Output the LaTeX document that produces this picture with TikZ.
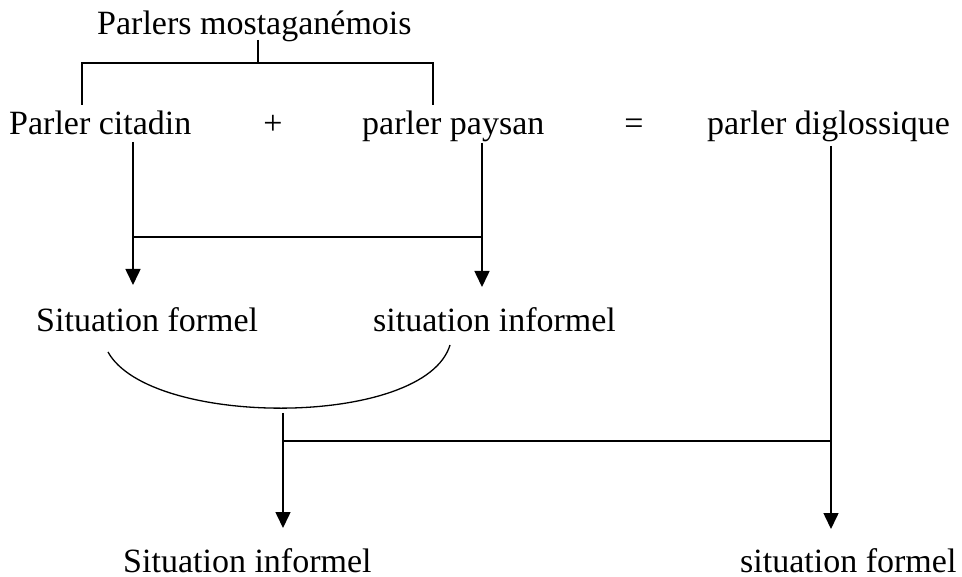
\documentclass[tikz,border=0pt]{standalone}
\usepackage{fontspec}
\setmainfont{Liberation Serif}
\usetikzlibrary{arrows.meta}
\begin{document}
\begin{tikzpicture}[x=1pt,y=-1pt,
  label text/.style={anchor=base west,inner sep=0pt,font=\fontsize{34}{40}\selectfont},
  sign text/.style={anchor=base,inner sep=0pt,font=\fontsize{34}{40}\selectfont},
  link/.style={line width=1.6pt},
  flow/.style={line width=1.6pt,-{Triangle[width=15pt,length=16pt]}}]
\useasboundingbox (0,0) rectangle (962,577);

% texts
\node[label text] (root) at (97,35) {Parlers mostaganémois};
\node[label text] (citadin) at (9,135) {Parler citadin};
\node[sign text] (plus) at (273,135) {+};
\node[label text] (paysan) at (362,135) {parler paysan};
\node[sign text] (equal) at (634,135) {=};
\node[label text] (diglo) at (707,135) {parler diglossique};
\node[label text] (sformel) at (36,332) {Situation formel};
\node[label text] (sinformel) at (373,332) {situation informel};
\node[label text] (binformel) at (123,572) {Situation informel};
\node[label text] (bformel) at (740,572) {situation formel};

% junction points
\coordinate (r0) at (258,40);
\coordinate (r1) at (258,63);
\coordinate (bl) at (82,63);
\coordinate (br) at (433,63);
\coordinate (blend) at (82,105);
\coordinate (brend) at (433,105);

\coordinate (c0) at (133,142);
\coordinate (c1) at (133,237);
\coordinate (c2) at (133,285);
\coordinate (p0) at (482,143);
\coordinate (p1) at (482,237);
\coordinate (p2) at (482,287);

\coordinate (a0) at (108,352);
\coordinate (a1) at (450,345);

\coordinate (m0) at (283,413);
\coordinate (m1) at (283,441);
\coordinate (m2) at (283,528);
\coordinate (d0) at (831,146);
\coordinate (d1) at (831,441);
\coordinate (d2) at (831,529);

% bracket under the title
\draw[link] (r0) -- (r1);
\draw[link] (blend) -- (bl) -- (br) -- (brend);

% the two parlers to the two situations
\draw[flow] (c0) -- (c2);
\draw[flow] (p0) -- (p2);
\draw[link] (c1) -- (p1);

% curve joining the two situations
\draw[line width=1.3pt] (a0) .. controls (150,428) and (425,428) .. (a1);

% lower distribution
\draw[flow] (m0) -- (m2);
\draw[flow] (d0) -- (d2);
\draw[link] (m1) -- (d1);
\end{tikzpicture}
\end{document}
